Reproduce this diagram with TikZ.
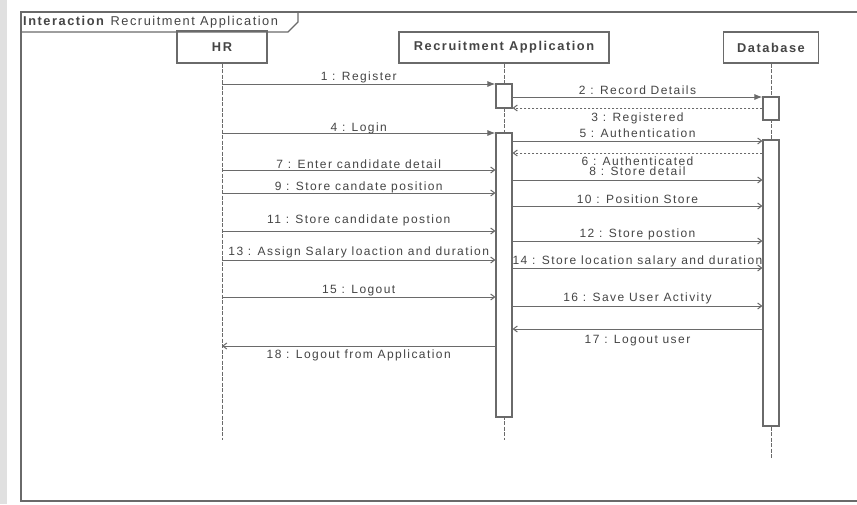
\documentclass[tikz,border=0pt]{standalone}
\usepackage{fontspec}
\setmainfont{Liberation Sans}
\newfontfamily\lblfont[LetterSpace=12]{Liberation Sans}
\usetikzlibrary{arrows.meta}
\definecolor{linec}{HTML}{6A6A6A}
\definecolor{txtc}{HTML}{454545}
\begin{document}
\begin{tikzpicture}[x=1pt,y=-1pt,
  frm/.style={draw=linec,line width=1.3pt},
  headbox/.style={draw=linec,line width=1.2pt,rectangle,inner sep=0pt,text=txtc,font=\lblfont\fontsize{12.8}{14}\selectfont\bfseries},
  actbox/.style={draw=linec,fill=white,line width=1.1pt,rectangle,inner sep=0pt,minimum width=16pt},
  life/.style={draw=linec,line width=0.7pt,dash pattern=on 4pt off 1.5pt},
  lbl/.style={font=\lblfont\fontsize{12}{14}\selectfont,text=txtc,inner sep=0pt,anchor=mid},
  syncm/.style={draw=linec,line width=1pt,-{Latex[length=8pt,width=6pt]}},
  asyncm/.style={draw=linec,line width=1pt,-{Straight Barb[length=4pt,width=6pt]}},
  retm/.style={draw=linec,line width=1pt,dash pattern=on 2pt off 2pt,-{Straight Barb[length=4pt,width=6pt]}},
]
\useasboundingbox (0,0) rectangle (857,504);
\fill[white] (0,0) rectangle (857,504);
\fill[black!12] (0,0) rectangle (7,504);

% frame
\draw[frm] (857,12) -- (21,12) -- (21,501) -- (857,501);
\draw[frm] (21,32) -- (288,32) -- (298,22) -- (298,12);
\node[anchor=west,inner sep=0pt,text=txtc,font=\lblfont\fontsize{12.8}{14}\selectfont] (ttl) at (23,22) {\textbf{Interaction} Recruitment Application};

% heads
\node[headbox,minimum width=90pt,minimum height=32pt] (hr) at (222,47) {HR};
\node[headbox,minimum width=210pt,minimum height=31pt] (ra) at (504,47.5) {Recruitment Application};
\node[headbox,minimum width=95pt,minimum height=31pt] (db) at (771,47.5) {Database};

% lifelines
\coordinate (hrEnd) at (222,440);
\coordinate (raEnd) at (504,440);
\coordinate (dbEnd) at (771,458);
\draw[life] (hr.south) -- (hrEnd);
\draw[life] (ra.south) -- (raEnd);
\draw[life] (db.south) -- (dbEnd);

% activations
\node[actbox,minimum height=24pt] (actA) at (504,96) {};
\node[actbox,minimum height=284pt] (actB) at (504,275) {};
\node[actbox,minimum height=23pt] (dbA) at (771,108.5) {};
\node[actbox,minimum height=286pt] (dbB) at (771,283) {};

% messages
\draw[syncm] (hr |- 0,84) -- node[lbl,yshift=6pt] {1 : Register} (actA.west |- 0,84);
\draw[syncm] (actA.east |- 0,97) -- node[lbl,yshift=5pt] {2 : Record Details} (dbA.west |- 0,97);
\draw[retm] (dbA.west |- 0,108) -- node[lbl,yshift=-11pt] {3 : Registered} (actA.east |- 0,108);
\draw[syncm] (hr |- 0,133) -- node[lbl,yshift=4pt] {4 : Login} (actB.west |- 0,133);
\draw[asyncm] (actB.east |- 0,141) -- node[lbl,yshift=6pt] {5 : Authentication} (dbB.west |- 0,141);
\draw[retm] (dbB.west |- 0,153) -- node[lbl,yshift=-9.5pt] {6 : Authenticated} (actB.east |- 0,153);
\draw[asyncm] (hr |- 0,170) -- node[lbl,yshift=4pt] {7 : Enter candidate detail} (actB.west |- 0,170);
\draw[asyncm] (actB.east |- 0,180) -- node[lbl,yshift=7pt] {8 : Store detail} (dbB.west |- 0,180);
\draw[asyncm] (hr |- 0,193) -- node[lbl,yshift=5pt] {9 : Store candate position} (actB.west |- 0,193);
\draw[asyncm] (actB.east |- 0,206) -- node[lbl,yshift=5pt] {10 : Position Store} (dbB.west |- 0,206);
\draw[asyncm] (hr |- 0,231) -- node[lbl,yshift=10pt] {11 : Store candidate postion} (actB.west |- 0,231);
\draw[asyncm] (actB.east |- 0,241) -- node[lbl,yshift=6pt] {12 : Store postion} (dbB.west |- 0,241);
\draw[asyncm] (hr |- 0,260) -- node[lbl,yshift=7pt] {13 : Assign Salary loaction and duration} (actB.west |- 0,260);
\draw[asyncm] (actB.east |- 0,268) -- node[lbl,yshift=6pt] {14 : Store location salary and duration} (dbB.west |- 0,268);
\draw[asyncm] (hr |- 0,297) -- node[lbl,yshift=6pt] {15 : Logout} (actB.west |- 0,297);
\draw[asyncm] (actB.east |- 0,306) -- node[lbl,yshift=7pt] {16 : Save User Activity} (dbB.west |- 0,306);
\draw[asyncm] (dbB.west |- 0,329) -- node[lbl,yshift=-12pt] {17 : Logout user} (actB.east |- 0,329);
\draw[asyncm] (actB.west |- 0,346) -- node[lbl,yshift=-10pt] {18 : Logout from Application} (hr |- 0,346);
\end{tikzpicture}
\end{document}
